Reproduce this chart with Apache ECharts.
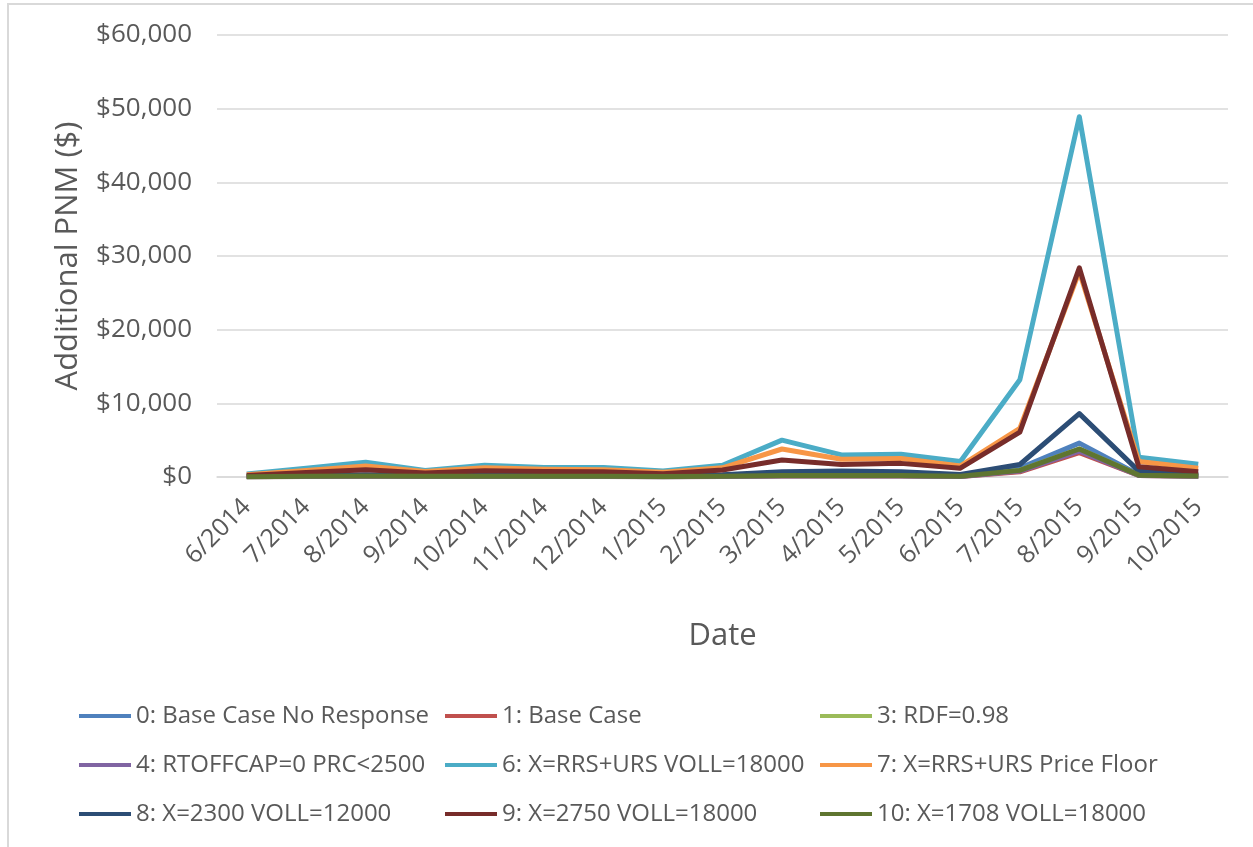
<!DOCTYPE html>
<html>
<head>
<meta charset="utf-8">
<title>Additional PNM</title>
<script src="https://cdn.jsdelivr.net/npm/echarts@6/dist/echarts.min.js"></script>
<style>
  html, body { margin: 0; padding: 0; background: #fff; }
  #chart { width: 1253px; height: 847px; }
</style>
</head>
<body>
<div id="chart"></div>
<script>
// months on the x axis
const months = ['6/2014', '7/2014', '8/2014', '9/2014', '10/2014', '11/2014', '12/2014', '1/2015', '2/2015',
  '3/2015', '4/2015', '5/2015', '6/2015', '7/2015', '8/2015', '9/2015', '10/2015'];

// series values ($)
const baseNoResponse = [50, 100, 150, 100, 100, 100, 100, 50, 100, 200, 200, 200, 100, 1200, 4600, 300, 150];
const baseCase = [30, 60, 100, 60, 80, 80, 80, 40, 80, 150, 150, 150, 80, 700, 3300, 200, 100];
const rdf098 = [40, 80, 120, 80, 100, 100, 100, 50, 100, 180, 180, 180, 100, 900, 3800, 250, 120];
const rtoffcap = [30, 60, 100, 60, 80, 80, 80, 40, 80, 150, 150, 150, 80, 800, 3500, 200, 100];
const rrsUrsVoll = [400, 1200, 2000, 900, 1600, 1300, 1300, 800, 1600, 5000, 3000, 3100, 2100, 13200, 48900, 2700, 1750];
const rrsUrsFloor = [300, 900, 1500, 750, 1250, 1050, 1000, 650, 1250, 3800, 2400, 2500, 1500, 6600, 27900, 2100, 1200];
const x2300 = [100, 200, 300, 200, 250, 250, 250, 150, 300, 700, 800, 700, 350, 1700, 8600, 800, 300];
const x2750 = [200, 600, 1000, 550, 850, 750, 700, 450, 950, 2300, 1700, 1850, 1200, 6100, 28400, 1400, 700];
const x1708 = [40, 90, 130, 90, 110, 110, 110, 60, 110, 200, 200, 200, 100, 900, 3800, 250, 130];

const names = ['0: Base Case No Response', '1: Base Case', '3: RDF=0.98',
  '4: RTOFFCAP=0 PRC<2500', '6: X=RRS+URS VOLL=18000', '7: X=RRS+URS Price Floor',
  '8: X=2300 VOLL=12000', '9: X=2750 VOLL=18000', '10: X=1708 VOLL=18000'];
const values = [baseNoResponse, baseCase, rdf098, rtoffcap, rrsUrsVoll, rrsUrsFloor, x2300, x2750, x1708];
const colors = ['#4f81bd', '#c0504d', '#9bbb59', '#8064a2', '#4bacc6', '#f79646', '#2c4d75', '#772c2a', '#5f7530'];

const font = '"Open Sans", sans-serif';
const textColor = '#595959';

const chart = echarts.init(document.getElementById('chart'));

function legendColumn(left, items) {
  return {
    orient: 'vertical',
    left: left,
    top: 696,
    itemWidth: 52,
    itemHeight: 4,
    itemGap: 19,
    icon: 'rect',
    selectedMode: false,
    textStyle: { color: textColor, fontSize: 24, fontFamily: font, lineHeight: 30 },
    data: items
  };
}

chart.setOption({
  backgroundColor: '#fff',
  animation: false,
  color: colors,
  graphic: [{
    type: 'rect',
    shape: { x: 8, y: 4, width: 1300, height: 900 },
    style: { fill: 'none', stroke: '#d9d9d9', lineWidth: 2 },
    silent: true
  }],
  grid: { left: 217, right: 25, top: 35, bottom: 370 },
  legend: [
    legendColumn(74, [names[0], names[3], names[6]]),
    legendColumn(440, [names[1], names[4], names[7]]),
    legendColumn(815, [names[2], names[5], names[8]])
  ],
  xAxis: {
    type: 'category',
    data: months,
    boundaryGap: true,
    name: 'Date',
    nameLocation: 'middle',
    nameGap: 144,
    nameTextStyle: { color: textColor, fontSize: 31, fontFamily: font },
    axisLine: { lineStyle: { color: '#d9d9d9', width: 1.5 } },
    axisTick: { show: false },
    axisLabel: {
      rotate: 45,
      interval: 0,
      margin: 26,
      color: textColor,
      fontSize: 25,
      fontFamily: font
    }
  },
  yAxis: {
    type: 'value',
    min: 0,
    max: 60000,
    interval: 10000,
    name: 'Additional PNM ($)',
    nameLocation: 'middle',
    nameGap: 133,
    nameTextStyle: { color: textColor, fontSize: 31, fontFamily: font },
    axisLine: { show: false },
    axisTick: { show: false },
    splitLine: { lineStyle: { color: '#d9d9d9', width: 1.5 } },
    axisLabel: {
      margin: 25,
      color: textColor,
      fontSize: 26,
      fontFamily: font,
      formatter: function (v) {
        return '$' + v.toLocaleString('en-US');
      }
    }
  },
  series: names.map(function (name, i) {
    return {
      name: name,
      type: 'line',
      data: values[i],
      symbol: 'none',
      lineStyle: { width: 5, color: colors[i], join: 'round' },
      itemStyle: { color: colors[i] }
    };
  })
});
</script>
</body>
</html>
